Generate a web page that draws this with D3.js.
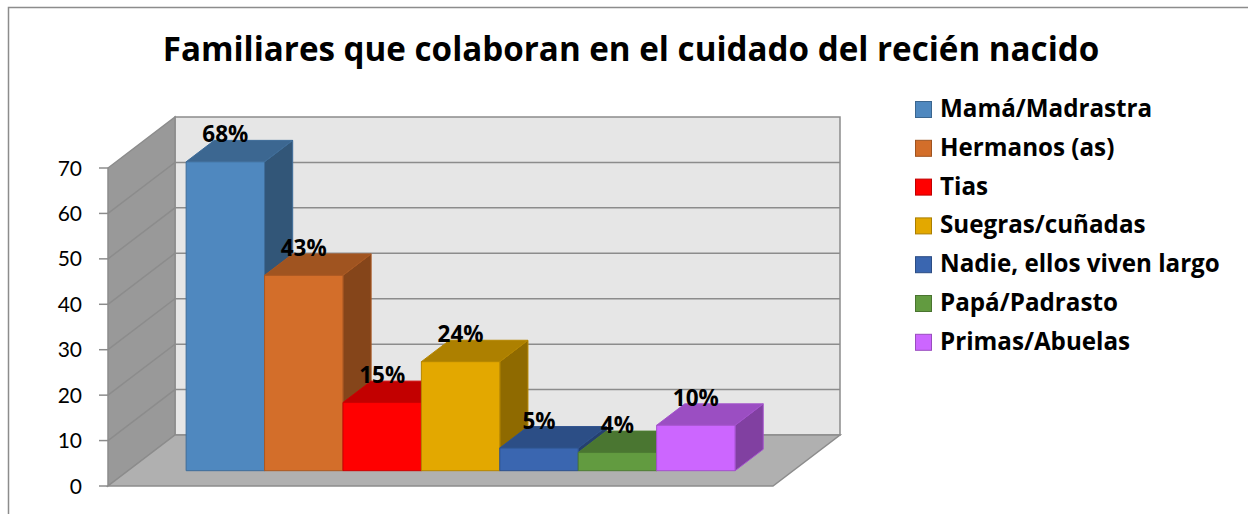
<!DOCTYPE html>
<html>
<head>
<meta charset="utf-8">
<script src="https://cdn.jsdelivr.net/npm/d3@7"></script>
<style>
  body { margin: 0; background: #fff; }
  svg { display: block; }
</style>
</head>
<body>
<div id="chart"></div>
<script>
// data
const categories = ["Mamá/Madrastra", "Hermanos (as)", "Tias", "Suegras/cuñadas",
                    "Nadie, ellos viven largo", "Papá/Padrasto", "Primas/Abuelas"];
const values = [68, 43, 15, 24, 5, 4, 10];
const valueLabels = ["68%", "43%", "15%", "24%", "5%", "4%", "10%"];
const yTicks = [0, 10, 20, 30, 40, 50, 60, 70];
const colors = ["#4f88bf", "#d36e2a", "#ff0000", "#e3a800", "#3a66b0", "#629b40", "#cc66ff"];

const W = 1248, H = 514;
const font = "'Open Sans', Lato, sans-serif";
const tickFont = "Lato, 'Open Sans', sans-serif";

const svg = d3.select("#chart").append("svg")
    .attr("width", W)
    .attr("height", H);

// scale a text's font size so it spans the given width
function fitWidth(sel, base, target) {
    const w = sel.node().getComputedTextLength();
    const size = base * target / w;
    sel.style("font-size", size + "px");
    return size;
}

// outer frame
svg.append("rect")
    .attr("x", 8.5).attr("y", 7.5)
    .attr("width", 1260).attr("height", 520)
    .attr("fill", "#fff")
    .attr("stroke", "#8c8c8c")
    .attr("stroke-width", 1.5);

// title
const title = svg.append("text")
    .attr("x", 631).attr("y", 61)
    .attr("text-anchor", "middle")
    .style("font-family", font)
    .style("font-weight", "bold")
    .style("font-size", "30px")
    .text("Familiares que colaboran en el cuidado del recién nacido");
fitWidth(title, 30, 937);

// fake 3d: front-left-bottom corner, depth vector
const ox = 108, oy = 486, dx = 67, dy = 51, plotW = 665;
const z0 = 0.3, z1 = 0.72;

const x = d3.scaleBand()
    .domain(categories)
    .range([0, plotW])
    .paddingInner(0)
    .paddingOuter(0.74);

const y = d3.scaleLinear()
    .domain([0, 70])
    .range([0, 318]);

const P = (px, v, z) => [ox + px + z * dx, oy - y(v) - z * dy];
const poly = pts => "M" + pts.map(p => p.join(",")).join("L") + "Z";

const walls = svg.append("g");

// back wall
walls.append("path")
    .attr("d", poly([P(0, 0, 1), P(plotW, 0, 1), P(plotW, 70, 1), P(0, 70, 1)]))
    .attr("fill", "#e6e6e6")
    .attr("stroke", "#8c8c8c")
    .attr("stroke-width", 1.5);

// side wall
walls.append("path")
    .attr("d", poly([P(0, 0, 0), P(0, 0, 1), P(0, 70, 1), P(0, 70, 0)]))
    .attr("fill", "#999999")
    .attr("stroke", "#8c8c8c")
    .attr("stroke-width", 1.5);

// floor
walls.append("path")
    .attr("d", poly([P(0, 0, 0), P(plotW, 0, 0), P(plotW, 0, 1), P(0, 0, 1)]))
    .attr("fill", "#b0b0b0")
    .attr("stroke", "#8c8c8c")
    .attr("stroke-width", 1.5);

// gridlines on side + back wall
walls.selectAll(".grid")
    .data(yTicks.filter(t => t > 0 && t < 70))
    .enter()
    .append("path")
    .attr("class", "grid")
    .attr("d", t => "M" + P(0, t, 0).join(",") + "L" + P(0, t, 1).join(",") + "L" + P(plotW, t, 1).join(","))
    .attr("fill", "none")
    .attr("stroke", "#8c8c8c")
    .attr("stroke-width", 1.5);

// y axis ticks + labels
const axis = svg.append("g");
axis.selectAll("line")
    .data(yTicks)
    .enter()
    .append("line")
    .attr("x1", ox - 9).attr("x2", ox)
    .attr("y1", t => P(0, t, 0)[1])
    .attr("y2", t => P(0, t, 0)[1])
    .attr("stroke", "#8c8c8c")
    .attr("stroke-width", 1.5);
axis.selectAll("text")
    .data(yTicks)
    .enter()
    .append("text")
    .attr("x", 82)
    .attr("y", t => P(0, t, 0)[1])
    .attr("dy", "0.36em")
    .attr("text-anchor", "end")
    .style("font-family", tickFont)
    .style("font-size", "21px")
    .text(t => t);

// bars, left to right so each one hides the side of the one before
const shade = (c, k) => { const r = d3.rgb(c); return d3.rgb(r.r * k, r.g * k, r.b * k).formatHex(); };
const bw = x.bandwidth();

const bars = svg.append("g")
    .selectAll("g")
    .data(categories)
    .enter()
    .append("g");

bars.each(function (c, i) {
    const g = d3.select(this);
    const x0 = x(c), x1 = x0 + bw, v = values[i];
    const edge = shade(colors[i], 0.8);
    g.append("path")
        .attr("d", poly([P(x1, 0, z0), P(x1, 0, z1), P(x1, v, z1), P(x1, v, z0)]))
        .attr("fill", shade(colors[i], 0.63))
        .attr("stroke", edge);
    g.append("path")
        .attr("d", poly([P(x0, v, z0), P(x1, v, z0), P(x1, v, z1), P(x0, v, z1)]))
        .attr("fill", shade(colors[i], 0.76))
        .attr("stroke", edge);
    g.append("path")
        .attr("d", poly([P(x0, 0, z0), P(x1, 0, z0), P(x1, v, z0), P(x0, v, z0)]))
        .attr("fill", colors[i])
        .attr("stroke", edge);
});

// value labels on top
svg.append("g")
    .selectAll("text")
    .data(categories)
    .enter()
    .append("text")
    .attr("x", (c, i) => P(x(c) + bw / 2, values[i], z0)[0])
    .attr("y", (c, i) => P(0, values[i], z1)[1] + 2)
    .attr("text-anchor", "middle")
    .style("font-family", font)
    .style("font-weight", "bold")
    .style("font-size", "22.5px")
    .text((c, i) => valueLabels[i]);

// legend
const legend = svg.append("g")
    .selectAll("g")
    .data(categories)
    .enter()
    .append("g")
    .attr("transform", (c, i) => "translate(915," + (117 + i * 38.8) + ")");
legend.append("rect")
    .attr("x", 0.5).attr("y", -15.5)
    .attr("width", 16).attr("height", 16)
    .attr("fill", (c, i) => colors[i])
    .attr("stroke", (c, i) => shade(colors[i], 0.75));
const legendText = legend.append("text")
    .attr("x", 25)
    .attr("y", 0)
    .style("font-family", font)
    .style("font-weight", "bold")
    .style("font-size", "20px")
    .text(c => c);
const legendSize = fitWidth(legendText.filter((c, i) => i === 4), 20, 280);
legendText.style("font-size", legendSize + "px");
</script>
</body>
</html>
